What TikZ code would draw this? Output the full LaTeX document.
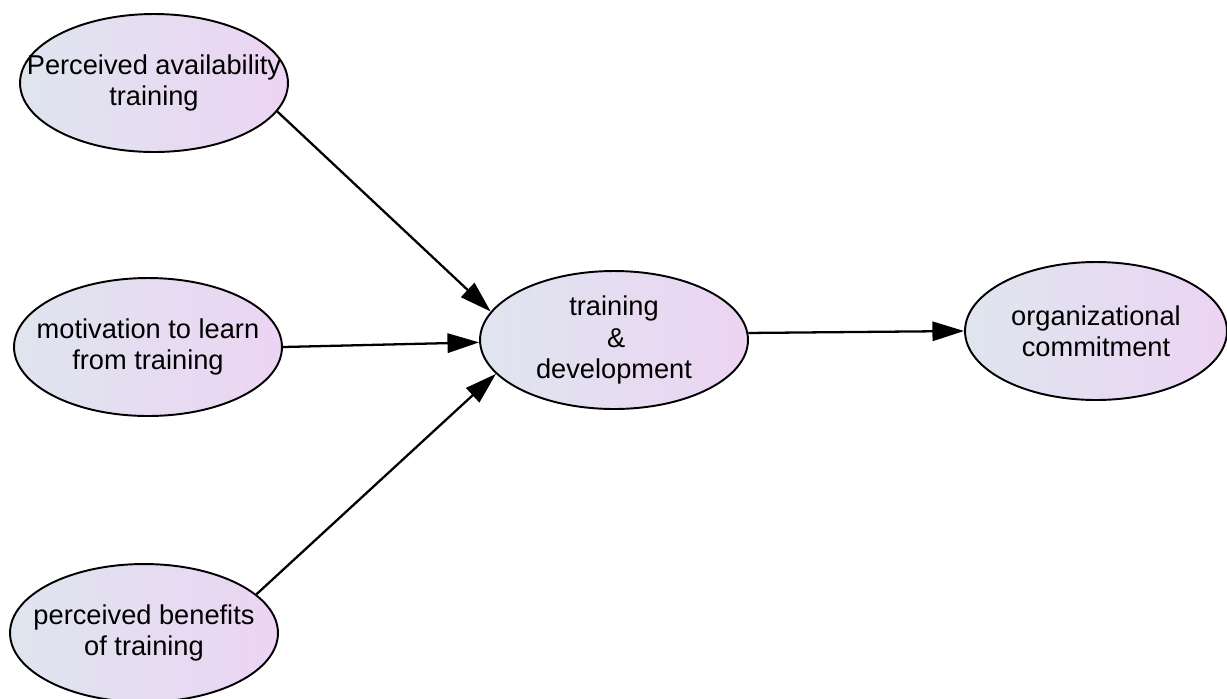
\documentclass[tikz,border=0pt]{standalone}
\usepackage{fontspec}
\setmainfont{Liberation Sans}
\usetikzlibrary{arrows.meta,shapes.geometric}
\usepackage{xcolor}
\definecolor{bubbleleft}{RGB}{223,229,239}
\definecolor{bubbleright}{RGB}{236,212,243}

\begin{document}
\begin{tikzpicture}[x=0.02cm, y=-0.02cm]
		\useasboundingbox (0,0) rectangle (1227,698);
		\begin{scope}[every node/.style={ellipse,draw,line width=1.1pt,
				left color=bubbleleft, right color=bubbleright,
				inner sep=-3cm, minimum width=5.36cm, minimum height=2.76cm,
				align=center, font=\fontsize{15.5}{17.8}\selectfont}]
			\node (avail) at (154,83) {Perceived availability\\training};
			\node (motiv) at (148,347) {motivation to learn\\from training};
			\node (benef) at (144,633) {perceived benefits\\of training};
			\node (td) at (614,340) {training\\\,\&\\development};
			\node[minimum width=5.24cm] (oc) at (1096,331) {organizational\\commitment};
		\end{scope}
		\begin{scope}[every path/.style={line width=1.3pt,-{Triangle[length=18pt,width=11pt]}}]
			\path (avail.-13) edge (td.167);
			\path (motiv.0) edge (td.181);
			\path (benef.19) edge (td.196);
			\path (td.3) edge (oc.180);
		\end{scope}
	\end{tikzpicture}
\end{document}
